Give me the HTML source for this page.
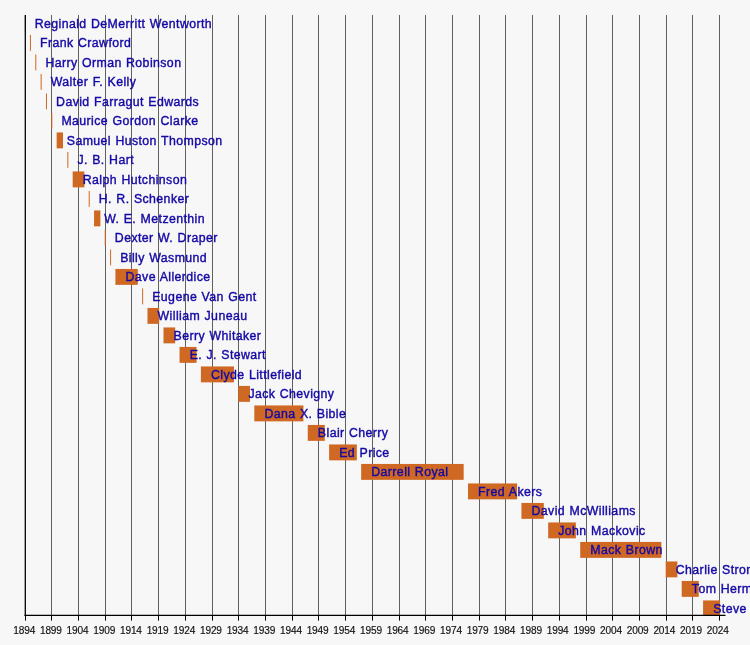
<!DOCTYPE html>
<html><head><meta charset="utf-8"><title>Texas Longhorns head coaches timeline</title>
<style>
html,body{margin:0;padding:0;background:#f7f7f7;}
body{width:750px;height:645px;overflow:hidden;}
svg{display:block;}
text{font-family:"Liberation Sans",Arial,Helvetica,sans-serif;}
.n{font-size:13.7px;fill:#1408a6;stroke:#1408a6;stroke-width:0.42px;word-spacing:0.63px;letter-spacing:0.46px;}
.a{font-size:10.1px;fill:#111;stroke:#111;stroke-width:0.15px;text-anchor:middle;letter-spacing:-0.15px;}
</style></head><body>
<svg width="750" height="645" viewBox="0 0 750 645">
<rect width="750" height="645" fill="#f7f7f7"/>

<g stroke="#606060" stroke-width="1">
<line x1="51.5" y1="15" x2="51.5" y2="615.4"/>
<line x1="78.5" y1="15" x2="78.5" y2="615.4"/>
<line x1="105.5" y1="15" x2="105.5" y2="615.4"/>
<line x1="131.5" y1="15" x2="131.5" y2="615.4"/>
<line x1="158.5" y1="15" x2="158.5" y2="615.4"/>
<line x1="185.5" y1="15" x2="185.5" y2="615.4"/>
<line x1="212.5" y1="15" x2="212.5" y2="615.4"/>
<line x1="238.5" y1="15" x2="238.5" y2="615.4"/>
<line x1="265.5" y1="15" x2="265.5" y2="615.4"/>
<line x1="292.5" y1="15" x2="292.5" y2="615.4"/>
<line x1="318.5" y1="15" x2="318.5" y2="615.4"/>
<line x1="345.5" y1="15" x2="345.5" y2="615.4"/>
<line x1="372.5" y1="15" x2="372.5" y2="615.4"/>
<line x1="399.5" y1="15" x2="399.5" y2="615.4"/>
<line x1="425.5" y1="15" x2="425.5" y2="615.4"/>
<line x1="452.5" y1="15" x2="452.5" y2="615.4"/>
<line x1="479.5" y1="15" x2="479.5" y2="615.4"/>
<line x1="505.5" y1="15" x2="505.5" y2="615.4"/>
<line x1="532.5" y1="15" x2="532.5" y2="615.4"/>
<line x1="559.5" y1="15" x2="559.5" y2="615.4"/>
<line x1="586.5" y1="15" x2="586.5" y2="615.4"/>
<line x1="612.5" y1="15" x2="612.5" y2="615.4"/>
<line x1="639.5" y1="15" x2="639.5" y2="615.4"/>
<line x1="666.5" y1="15" x2="666.5" y2="615.4"/>
<line x1="692.5" y1="15" x2="692.5" y2="615.4"/>
<line x1="719.5" y1="15" x2="719.5" y2="615.4"/>
</g>
<g fill="#ce6822">
<rect x="24.90" y="15.45" width="0.70" height="15.90"/>
<rect x="29.94" y="34.95" width="1.00" height="15.90"/>
<rect x="35.28" y="54.45" width="1.00" height="15.90"/>
<rect x="40.63" y="73.95" width="1.00" height="15.90"/>
<rect x="45.97" y="93.45" width="1.00" height="15.90"/>
<rect x="51.31" y="112.95" width="1.00" height="15.90"/>
<rect x="56.65" y="132.45" width="6.34" height="15.90"/>
<rect x="67.34" y="151.95" width="1.00" height="15.90"/>
<rect x="72.68" y="171.45" width="11.68" height="15.90"/>
<rect x="88.71" y="190.95" width="1.00" height="15.90"/>
<rect x="94.05" y="210.45" width="6.34" height="15.90"/>
<rect x="104.74" y="229.95" width="1.00" height="15.90"/>
<rect x="110.08" y="249.45" width="1.00" height="15.90"/>
<rect x="115.42" y="268.95" width="22.37" height="15.90"/>
<rect x="142.13" y="288.45" width="1.00" height="15.90"/>
<rect x="147.48" y="307.95" width="11.68" height="15.90"/>
<rect x="163.50" y="327.45" width="11.68" height="15.90"/>
<rect x="179.53" y="346.95" width="17.03" height="15.90"/>
<rect x="200.90" y="366.45" width="33.05" height="15.90"/>
<rect x="238.30" y="385.95" width="11.68" height="15.90"/>
<rect x="254.32" y="405.45" width="49.08" height="15.90"/>
<rect x="307.75" y="424.95" width="17.03" height="15.90"/>
<rect x="329.12" y="444.45" width="27.71" height="15.90"/>
<rect x="361.17" y="463.95" width="102.51" height="15.90"/>
<rect x="468.02" y="483.45" width="49.08" height="15.90"/>
<rect x="521.44" y="502.95" width="22.37" height="15.90"/>
<rect x="548.16" y="522.45" width="27.71" height="15.90"/>
<rect x="580.21" y="541.95" width="81.14" height="15.90"/>
<rect x="665.69" y="561.45" width="11.68" height="15.90"/>
<rect x="681.72" y="580.95" width="17.03" height="15.90"/>
<rect x="703.08" y="600.45" width="17.03" height="15.35"/>
</g>
<g stroke="#000" fill="none">
<line x1="25.3" y1="15" x2="25.3" y2="616.0" stroke-width="1.3"/>
<line x1="24.5" y1="615.4" x2="725.5" y2="615.4" stroke-width="1.15"/>
</g>
<g stroke="#000" stroke-width="1">
<line x1="25.5" y1="615.4" x2="25.5" y2="620.6"/>
<line x1="51.5" y1="615.4" x2="51.5" y2="620.6"/>
<line x1="78.5" y1="615.4" x2="78.5" y2="620.6"/>
<line x1="105.5" y1="615.4" x2="105.5" y2="620.6"/>
<line x1="131.5" y1="615.4" x2="131.5" y2="620.6"/>
<line x1="158.5" y1="615.4" x2="158.5" y2="620.6"/>
<line x1="185.5" y1="615.4" x2="185.5" y2="620.6"/>
<line x1="212.5" y1="615.4" x2="212.5" y2="620.6"/>
<line x1="238.5" y1="615.4" x2="238.5" y2="620.6"/>
<line x1="265.5" y1="615.4" x2="265.5" y2="620.6"/>
<line x1="292.5" y1="615.4" x2="292.5" y2="620.6"/>
<line x1="318.5" y1="615.4" x2="318.5" y2="620.6"/>
<line x1="345.5" y1="615.4" x2="345.5" y2="620.6"/>
<line x1="372.5" y1="615.4" x2="372.5" y2="620.6"/>
<line x1="399.5" y1="615.4" x2="399.5" y2="620.6"/>
<line x1="425.5" y1="615.4" x2="425.5" y2="620.6"/>
<line x1="452.5" y1="615.4" x2="452.5" y2="620.6"/>
<line x1="479.5" y1="615.4" x2="479.5" y2="620.6"/>
<line x1="505.5" y1="615.4" x2="505.5" y2="620.6"/>
<line x1="532.5" y1="615.4" x2="532.5" y2="620.6"/>
<line x1="559.5" y1="615.4" x2="559.5" y2="620.6"/>
<line x1="586.5" y1="615.4" x2="586.5" y2="620.6"/>
<line x1="612.5" y1="615.4" x2="612.5" y2="620.6"/>
<line x1="639.5" y1="615.4" x2="639.5" y2="620.6"/>
<line x1="666.5" y1="615.4" x2="666.5" y2="620.6"/>
<line x1="692.5" y1="615.4" x2="692.5" y2="620.6"/>
<line x1="719.5" y1="615.4" x2="719.5" y2="620.6"/>
</g>
<g class="n">
<text transform="translate(34.70 27.60) scale(0.9 1)">Reginald DeMerritt Wentworth</text>
<text transform="translate(40.04 47.10) scale(0.9 1)">Frank Crawford</text>
<text transform="translate(45.38 66.60) scale(0.9 1)">Harry Orman Robinson</text>
<text transform="translate(50.73 86.10) scale(0.9 1)">Walter F. Kelly</text>
<text transform="translate(56.07 105.60) scale(0.9 1)">David Farragut Edwards</text>
<text transform="translate(61.41 125.10) scale(0.9 1)">Maurice Gordon Clarke</text>
<text transform="translate(66.75 144.60) scale(0.9 1)">Samuel Huston Thompson</text>
<text transform="translate(77.44 164.10) scale(0.9 1)">J. B. Hart</text>
<text transform="translate(82.78 183.60) scale(0.9 1)">Ralph Hutchinson</text>
<text transform="translate(98.81 203.10) scale(0.9 1)">H. R. Schenker</text>
<text transform="translate(104.15 222.60) scale(0.9 1)">W. E. Metzenthin</text>
<text transform="translate(114.84 242.10) scale(0.9 1)">Dexter W. Draper</text>
<text transform="translate(120.18 261.60) scale(0.9 1)">Billy Wasmund</text>
<text transform="translate(125.52 281.10) scale(0.9 1)">Dave Allerdice</text>
<text transform="translate(152.23 300.60) scale(0.9 1)">Eugene Van Gent</text>
<text transform="translate(157.58 320.10) scale(0.9 1)">William Juneau</text>
<text transform="translate(173.60 339.60) scale(0.9 1)">Berry Whitaker</text>
<text transform="translate(189.63 359.10) scale(0.9 1)">E. J. Stewart</text>
<text transform="translate(211.00 378.60) scale(0.9 1)">Clyde Littlefield</text>
<text transform="translate(248.40 398.10) scale(0.9 1)">Jack Chevigny</text>
<text transform="translate(264.42 417.60) scale(0.9 1)">Dana X. Bible</text>
<text transform="translate(317.85 437.10) scale(0.9 1)">Blair Cherry</text>
<text transform="translate(339.22 456.60) scale(0.9 1)">Ed Price</text>
<text transform="translate(371.27 476.10) scale(0.9 1)">Darrell Royal</text>
<text transform="translate(478.12 495.60) scale(0.9 1)">Fred Akers</text>
<text transform="translate(531.54 515.10) scale(0.9 1)">David McWilliams</text>
<text transform="translate(558.26 534.60) scale(0.9 1)">John Mackovic</text>
<text transform="translate(590.31 554.10) scale(0.9 1)">Mack Brown</text>
<text transform="translate(675.79 573.60) scale(0.9 1)">Charlie Strong</text>
<text transform="translate(691.82 593.10) scale(0.9 1)">Tom Herman</text>
<text transform="translate(713.18 612.60) scale(0.9 1)">Steve Sarkisian</text>
</g>
<g class="a">
<text x="24.20" y="633.9">1894</text>
<text x="50.87" y="633.9">1899</text>
<text x="77.54" y="633.9">1904</text>
<text x="104.22" y="633.9">1909</text>
<text x="130.89" y="633.9">1914</text>
<text x="157.56" y="633.9">1919</text>
<text x="184.23" y="633.9">1924</text>
<text x="210.90" y="633.9">1929</text>
<text x="237.58" y="633.9">1934</text>
<text x="264.25" y="633.9">1939</text>
<text x="290.92" y="633.9">1944</text>
<text x="317.59" y="633.9">1949</text>
<text x="344.26" y="633.9">1954</text>
<text x="370.94" y="633.9">1959</text>
<text x="397.61" y="633.9">1964</text>
<text x="424.28" y="633.9">1969</text>
<text x="450.95" y="633.9">1974</text>
<text x="477.62" y="633.9">1979</text>
<text x="504.30" y="633.9">1984</text>
<text x="530.97" y="633.9">1989</text>
<text x="557.64" y="633.9">1994</text>
<text x="584.31" y="633.9">1999</text>
<text x="610.98" y="633.9">2004</text>
<text x="637.66" y="633.9">2009</text>
<text x="664.33" y="633.9">2014</text>
<text x="691.00" y="633.9">2019</text>
<text x="717.67" y="633.9">2024</text>
</g>
</svg>
</body></html>
